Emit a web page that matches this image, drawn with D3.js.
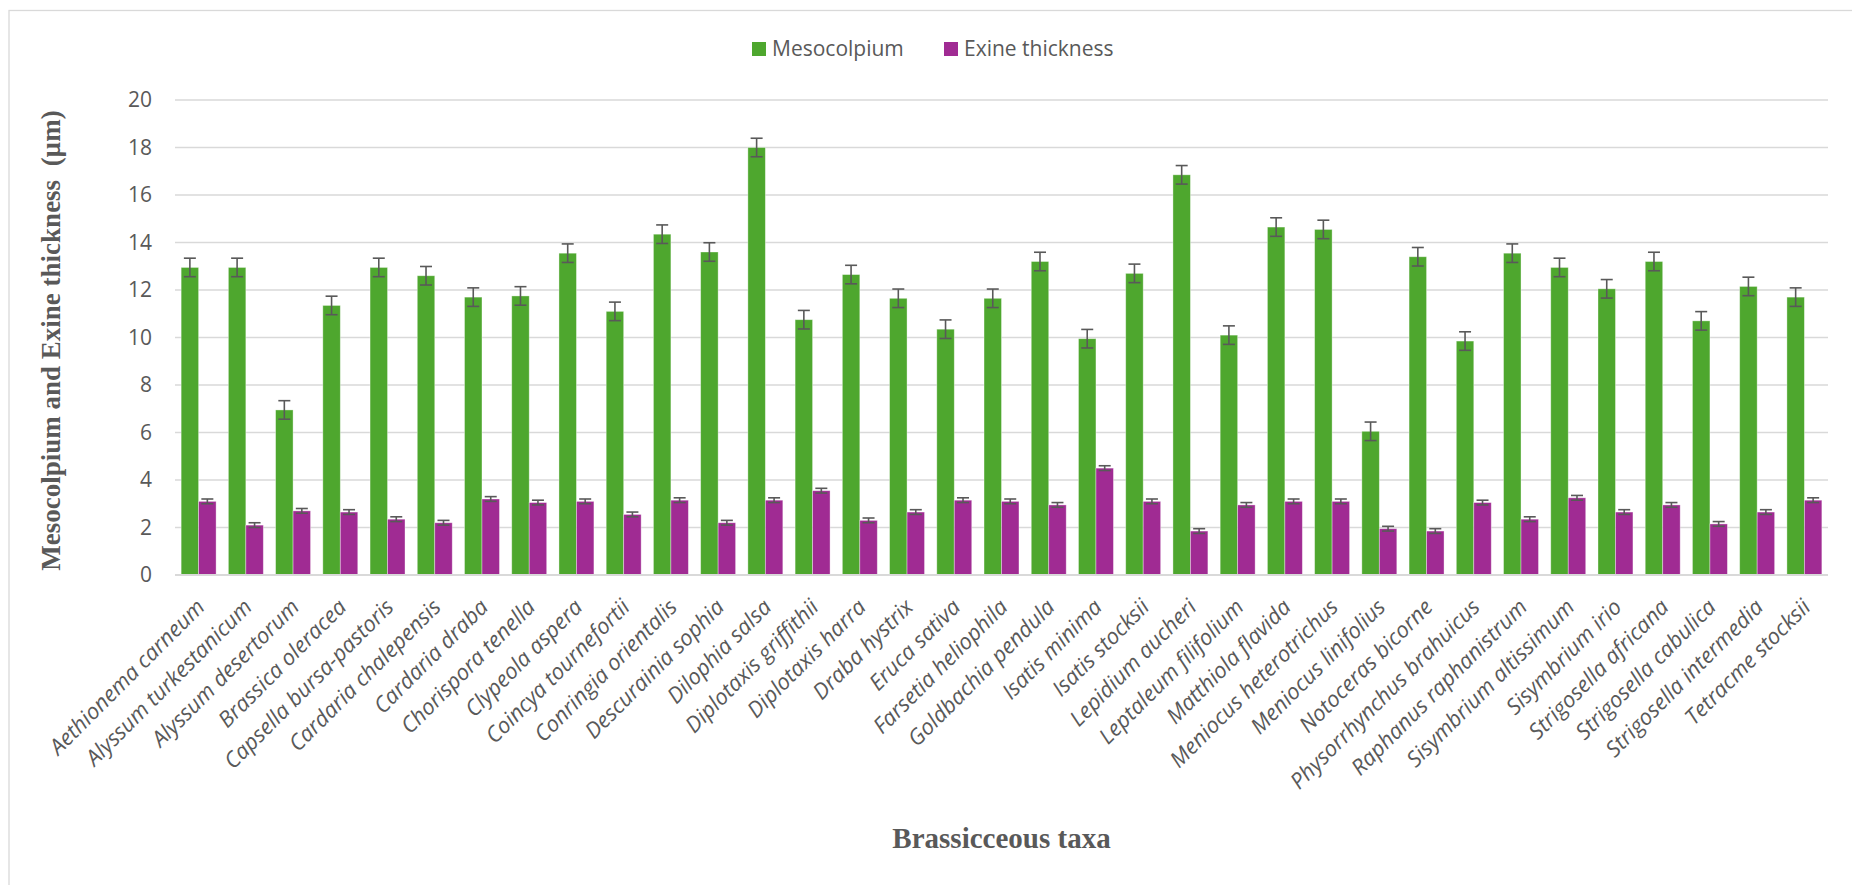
<!DOCTYPE html>
<html>
<head>
<meta charset="utf-8">
<script src="https://cdn.jsdelivr.net/npm/d3@7"></script>
<style>
  html, body { margin: 0; padding: 0; background: #fff; }
  svg { display: block; }
  .keep-spaces { white-space: pre; }
</style>
</head>
<body>
<svg id="chart" width="1852" height="885"></svg>
<script>
// Pollen measurements of Brassicaceae taxa (µm)
const taxa = [
  "Aethionema carneum", "Alyssum turkestanicum", "Alyssum desertorum", "Brassica oleracea",
  "Capsella bursa-pastoris", "Cardaria chalepensis", "Cardaria draba", "Chorispora tenella",
  "Clypeola aspera", "Coincya tournefortii", "Conringia orientalis", "Descurainia sophia",
  "Dilophia salsa", "Diplotaxis griffithii", "Diplotaxis harra", "Draba hystrix",
  "Eruca sativa", "Farsetia heliophila", "Goldbachia pendula", "Isatis minima",
  "Isatis stocksii", "Lepidium aucheri", "Leptaleum filifolium", "Matthiola flavida",
  "Meniocus heterotrichus", "Meniocus linifolius", "Notoceras bicorne", "Physorrhynchus brahuicus",
  "Raphanus raphanistrum", "Sisymbrium altissimum", "Sisymbrium irio", "Strigosella africana",
  "Strigosella cabulica", "Strigosella intermedia", "Tetracme stocksii"
];

const mesocolpium = [
  12.95, 12.95, 6.95, 11.35, 12.95, 12.6, 11.7, 11.75, 13.55, 11.1,
  14.35, 13.6, 18.0, 10.75, 12.65, 11.65, 10.35, 11.65, 13.2, 9.95,
  12.7, 16.85, 10.1, 14.65, 14.55, 6.05, 13.4, 9.85, 13.55, 12.95,
  12.05, 13.2, 10.7, 12.15, 11.7
];
const mesocolpiumErr = [
  0.39, 0.39, 0.39, 0.39, 0.39, 0.39, 0.39, 0.39, 0.39, 0.39,
  0.39, 0.39, 0.39, 0.39, 0.39, 0.39, 0.39, 0.39, 0.39, 0.39,
  0.39, 0.39, 0.39, 0.39, 0.39, 0.39, 0.39, 0.39, 0.39, 0.39,
  0.39, 0.39, 0.39, 0.39, 0.39
];

const exine = [
  3.1, 2.1, 2.7, 2.65, 2.35, 2.2, 3.2, 3.05, 3.1, 2.55,
  3.15, 2.2, 3.15, 3.55, 2.3, 2.65, 3.15, 3.1, 2.95, 4.5,
  3.1, 1.85, 2.95, 3.1, 3.1, 1.95, 1.85, 3.05, 2.35, 3.25,
  2.65, 2.95, 2.15, 2.65, 3.15
];
const exineErr = [
  0.1, 0.1, 0.1, 0.1, 0.1, 0.1, 0.1, 0.1, 0.1, 0.1,
  0.1, 0.1, 0.1, 0.1, 0.1, 0.1, 0.1, 0.1, 0.1, 0.1,
  0.1, 0.1, 0.1, 0.1, 0.1, 0.1, 0.1, 0.1, 0.1, 0.1,
  0.1, 0.1, 0.1, 0.1, 0.1
];

const seriesNames = ["Mesocolpium", "Exine thickness"];
const seriesColors = ["#4EA72E", "#A02B93"];
const yTicks = [0, 2, 4, 6, 8, 10, 12, 14, 16, 18, 20];

const series = [
  { name: seriesNames[0], color: seriesColors[0], values: mesocolpium, errors: mesocolpiumErr },
  { name: seriesNames[1], color: seriesColors[1], values: exine, errors: exineErr }
];

const svg = d3.select("#chart");
const labelFont = "'Open Sans', 'Noto Sans', sans-serif";
const titleFont = "'Liberation Serif', 'Times New Roman', serif";
const textColor = "#595959";

const plot = { left: 175, right: 1828, top: 100, bottom: 575 };

// chart area frame
svg.append("rect")
  .attr("x", 9).attr("y", 10.5)
  .attr("width", 1900).attr("height", 1000)
  .attr("fill", "none").attr("stroke", "#d9d9d9").attr("stroke-width", 1.3);

const x0 = d3.scaleBand()
  .domain(taxa)
  .range([plot.left, plot.right])
  .paddingInner(0.26)
  .paddingOuter(0.13);

const x1 = d3.scaleBand()
  .domain(seriesNames)
  .range([0, x0.bandwidth()]);

const y = d3.scaleLinear().domain([0, 20]).range([plot.bottom, plot.top]);

// horizontal gridlines
svg.append("g")
  .selectAll("line")
  .data(yTicks)
  .join("line")
  .attr("x1", plot.left).attr("x2", plot.right)
  .attr("y1", d => y(d)).attr("y2", d => y(d))
  .attr("stroke", "#d9d9d9").attr("stroke-width", 1.6);

// y axis labels
const yAxis = d3.axisLeft(y).tickValues(yTicks).tickSize(0).tickPadding(23);
const gy = svg.append("g").attr("transform", `translate(${plot.left},0)`).call(yAxis);
gy.select(".domain").remove();
gy.selectAll("text")
  .attr("font-family", labelFont).attr("font-size", 21).attr("fill", textColor);

// bars
const groups = svg.append("g")
  .selectAll("g")
  .data(series)
  .join("g")
  .attr("fill", d => d.color);

groups.selectAll("rect")
  .data(s => s.values.map((v, i) => ({ taxon: taxa[i], value: v, err: s.errors[i], name: s.name })))
  .join("rect")
  .attr("x", d => x0(d.taxon) + x1(d.name))
  .attr("y", d => y(d.value))
  .attr("width", x1.bandwidth())
  .attr("height", d => y(0) - y(d.value))
  .attr("stroke", "#ffffff").attr("stroke-opacity", 0.45).attr("stroke-width", 0.8);

// error bars
const capHalf = 6;
const errG = svg.append("g").attr("stroke", "#595959").attr("stroke-width", 1.6).attr("fill", "none");
series.forEach(s => {
  s.values.forEach((v, i) => {
    const cx = x0(taxa[i]) + x1(s.name) + x1.bandwidth() / 2;
    const yHi = y(v + s.errors[i]);
    const yLo = y(v - s.errors[i]);
    errG.append("line").attr("x1", cx).attr("x2", cx).attr("y1", yHi).attr("y2", yLo);
    errG.append("line").attr("x1", cx - capHalf).attr("x2", cx + capHalf).attr("y1", yHi).attr("y2", yHi);
    errG.append("line").attr("x1", cx - capHalf).attr("x2", cx + capHalf).attr("y1", yLo).attr("y2", yLo);
  });
});

// x axis line
svg.append("line")
  .attr("x1", plot.left).attr("x2", plot.right)
  .attr("y1", y(0)).attr("y2", y(0))
  .attr("stroke", "#d9d9d9").attr("stroke-width", 1.8);

// rotated taxon labels
svg.append("g")
  .selectAll("text")
  .data(taxa)
  .join("text")
  .attr("transform", d => `translate(${x0(d) + x0.bandwidth() / 2 + 2},${plot.bottom + 28}) rotate(-45)`)
  .attr("text-anchor", "end")
  .attr("dy", "0.35em")
  .attr("font-family", labelFont)
  .attr("font-style", "italic")
  .attr("font-size", 22)
  .attr("fill", textColor)
  .text(d => d);

// axis titles
svg.append("text")
  .attr("class", "keep-spaces")
  .attr("transform", `translate(60,${(plot.top + plot.bottom) / 2 + 3}) rotate(-90)`)
  .attr("text-anchor", "middle")
  .attr("font-family", titleFont).attr("font-weight", "bold").attr("font-size", 27)
  .attr("fill", textColor)
  .text("Mesocolpium and Exine thickness  (µm)");

svg.append("text")
  .attr("x", (plot.left + plot.right) / 2).attr("y", 848)
  .attr("text-anchor", "middle")
  .attr("font-family", titleFont).attr("font-weight", "bold").attr("font-size", 29)
  .attr("fill", textColor)
  .text("Brassicceous taxa");

// legend
const legendItems = [
  { name: seriesNames[0], color: seriesColors[0], x: 752 },
  { name: seriesNames[1], color: seriesColors[1], x: 944 }
];
const lg = svg.append("g");
legendItems.forEach(it => {
  lg.append("rect").attr("x", it.x).attr("y", 42).attr("width", 14).attr("height", 14).attr("fill", it.color);
  lg.append("text")
    .attr("x", it.x + 20).attr("y", 49).attr("dy", "0.35em")
    .attr("font-family", labelFont).attr("font-size", 21).attr("fill", textColor)
    .text(it.name);
});
</script>
</body>
</html>
